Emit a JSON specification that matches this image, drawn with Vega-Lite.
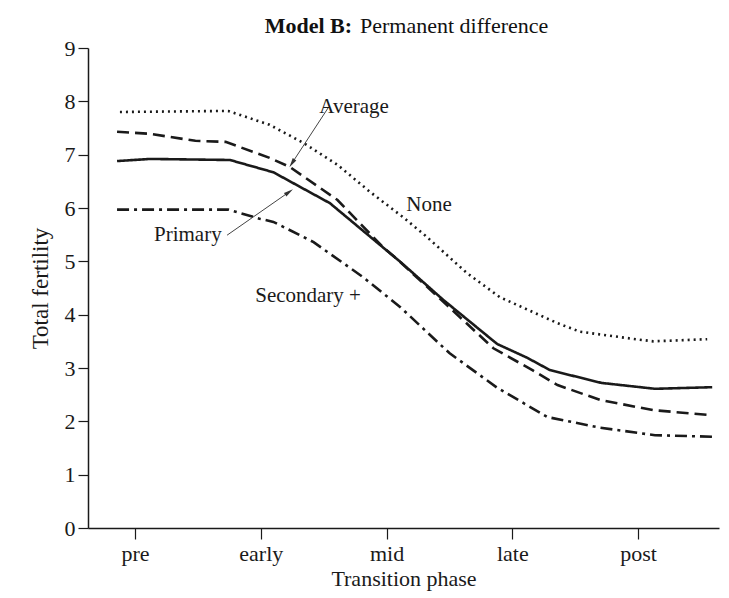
{
  "$schema": "https://vega.github.io/schema/vega-lite/v6.json",
  "width": 631,
  "height": 480,
  "autosize": "none",
  "padding": {"left": 88, "top": 48, "right": 10, "bottom": 70},
  "background": "#ffffff",
  "config": {
    "view": {"stroke": null},
    "font": "Liberation Serif",
    "axis": {
      "domainColor": "#1a1a1a",
      "tickColor": "#1a1a1a",
      "labelColor": "#1a1a1a",
      "titleColor": "#1a1a1a",
      "labelFont": "Liberation Serif",
      "titleFont": "Liberation Serif",
      "labelFontSize": 22,
      "titleFontSize": 22,
      "titleFontWeight": "normal",
      "grid": false,
      "domainWidth": 1.5,
      "tickWidth": 1.2
    }
  },
  "datasets": {
    "lines": [
      {"series": "Primary", "phase": 0.857, "tfr": 6.88},
      {"series": "Primary", "phase": 1.12, "tfr": 6.92},
      {"series": "Primary", "phase": 1.755, "tfr": 6.90},
      {"series": "Primary", "phase": 2.10, "tfr": 6.67},
      {"series": "Primary", "phase": 2.55, "tfr": 6.09},
      {"series": "Primary", "phase": 3.11, "tfr": 4.99},
      {"series": "Primary", "phase": 3.45, "tfr": 4.28},
      {"series": "Primary", "phase": 3.88, "tfr": 3.45},
      {"series": "Primary", "phase": 4.12, "tfr": 3.19},
      {"series": "Primary", "phase": 4.30, "tfr": 2.96},
      {"series": "Primary", "phase": 4.71, "tfr": 2.72},
      {"series": "Primary", "phase": 5.135, "tfr": 2.61},
      {"series": "Primary", "phase": 5.59, "tfr": 2.64},

      {"series": "Average", "phase": 0.857, "tfr": 7.43},
      {"series": "Average", "phase": 1.12, "tfr": 7.39},
      {"series": "Average", "phase": 1.48, "tfr": 7.26},
      {"series": "Average", "phase": 1.72, "tfr": 7.24},
      {"series": "Average", "phase": 2.07, "tfr": 6.94},
      {"series": "Average", "phase": 2.23, "tfr": 6.77},
      {"series": "Average", "phase": 2.61, "tfr": 6.15},
      {"series": "Average", "phase": 2.97, "tfr": 5.27},
      {"series": "Average", "phase": 3.08, "tfr": 5.05},
      {"series": "Average", "phase": 3.48, "tfr": 4.18},
      {"series": "Average", "phase": 3.85, "tfr": 3.37},
      {"series": "Average", "phase": 4.16, "tfr": 2.96},
      {"series": "Average", "phase": 4.36, "tfr": 2.68},
      {"series": "Average", "phase": 4.70, "tfr": 2.40},
      {"series": "Average", "phase": 5.12, "tfr": 2.21},
      {"series": "Average", "phase": 5.56, "tfr": 2.12},

      {"series": "None", "phase": 0.88, "tfr": 7.80},
      {"series": "None", "phase": 1.74, "tfr": 7.82},
      {"series": "None", "phase": 2.07, "tfr": 7.56},
      {"series": "None", "phase": 2.34, "tfr": 7.22},
      {"series": "None", "phase": 2.61, "tfr": 6.81},
      {"series": "None", "phase": 2.87, "tfr": 6.30},
      {"series": "None", "phase": 3.13, "tfr": 5.83},
      {"series": "None", "phase": 3.30, "tfr": 5.50},
      {"series": "None", "phase": 3.64, "tfr": 4.78},
      {"series": "None", "phase": 3.90, "tfr": 4.33},
      {"series": "None", "phase": 4.36, "tfr": 3.84},
      {"series": "None", "phase": 4.54, "tfr": 3.68},
      {"series": "None", "phase": 4.95, "tfr": 3.55},
      {"series": "None", "phase": 5.12, "tfr": 3.50},
      {"series": "None", "phase": 5.55, "tfr": 3.54},

      {"series": "Secondary +", "phase": 0.857, "tfr": 5.97},
      {"series": "Secondary +", "phase": 1.74, "tfr": 5.97},
      {"series": "Secondary +", "phase": 1.99, "tfr": 5.80},
      {"series": "Secondary +", "phase": 2.10, "tfr": 5.74},
      {"series": "Secondary +", "phase": 2.42, "tfr": 5.36},
      {"series": "Secondary +", "phase": 2.81, "tfr": 4.71},
      {"series": "Secondary +", "phase": 3.11, "tfr": 4.14},
      {"series": "Secondary +", "phase": 3.50, "tfr": 3.28},
      {"series": "Secondary +", "phase": 3.88, "tfr": 2.63},
      {"series": "Secondary +", "phase": 4.28, "tfr": 2.08},
      {"series": "Secondary +", "phase": 4.70, "tfr": 1.88},
      {"series": "Secondary +", "phase": 5.135, "tfr": 1.74},
      {"series": "Secondary +", "phase": 5.61, "tfr": 1.71}
    ],
    "labels": [
      {"label": "Average", "phase": 2.742, "tfr": 7.89},
      {"label": "None", "phase": 3.338, "tfr": 6.06},
      {"label": "Primary", "phase": 1.42, "tfr": 5.49},
      {"label": "Secondary +", "phase": 2.376, "tfr": 4.35}
    ],
    "arrows": [
      {"label": "Average", "phase": 2.535, "tfr": 7.875, "phase2": 2.248, "tfr2": 6.84},
      {"label": "Primary", "phase": 1.732, "tfr": 5.49, "phase2": 2.225, "tfr2": 6.30}
    ]
  },
  "layer": [
    {
      "data": {"name": "lines"},
      "mark": {"type": "line", "color": "#1a1a1a", "clip": false},
      "encoding": {
        "x": {
          "field": "phase",
          "type": "quantitative",
          "scale": {"domain": [0.626, 5.644], "nice": false, "zero": false},
          "axis": {
            "values": [1, 2, 3, 4, 5],
            "labelExpr": "['', 'pre', 'early', 'mid', 'late', 'post'][datum.value]",
            "tickSize": 11,
            "labelPadding": 4,
            "title": "Transition phase",
            "titlePadding": 4
          }
        },
        "y": {
          "field": "tfr",
          "type": "quantitative",
          "scale": {"domain": [0, 9], "nice": false},
          "axis": {
            "values": [0, 1, 2, 3, 4, 5, 6, 7, 8, 9],
            "tickSize": 10,
            "labelPadding": 3,
            "title": "Total fertility",
            "titleFontSize": 23,
            "titlePadding": 12
          }
        },
        "detail": {"field": "series"},
        "strokeDash": {
          "field": "series",
          "type": "nominal",
          "scale": {
            "domain": ["Primary", "Average", "None", "Secondary +"],
            "range": [[1, 0], [12, 6], [2, 4], [12, 5, 3, 5]]
          },
          "legend": null
        },
        "strokeWidth": {
          "field": "series",
          "type": "nominal",
          "scale": {
            "domain": ["Primary", "Average", "None", "Secondary +"],
            "range": [2.6, 2.6, 1.8, 2.2]
          },
          "legend": null
        }
      }
    },
    {
      "data": {"name": "arrows"},
      "mark": {"type": "rule", "color": "#444444", "strokeWidth": 1},
      "encoding": {
        "x": {"field": "phase", "type": "quantitative"},
        "y": {"field": "tfr", "type": "quantitative"},
        "x2": {"field": "phase2"},
        "y2": {"field": "tfr2"}
      }
    },
    {
      "data": {"name": "arrows"},
      "transform": [{"filter": "datum.label === 'Average'"}],
      "mark": {"type": "point", "shape": "M -0.45 1 L 0 -1 L 0.45 1 Z", "filled": true, "color": "#333333", "size": 90, "angle": 213, "opacity": 1},
      "encoding": {
        "x": {"field": "phase2", "type": "quantitative"},
        "y": {"field": "tfr2", "type": "quantitative"}
      }
    },
    {
      "data": {"name": "arrows"},
      "transform": [{"filter": "datum.label === 'Primary'"}],
      "mark": {"type": "point", "shape": "M -0.45 1 L 0 -1 L 0.45 1 Z", "filled": true, "color": "#333333", "size": 90, "angle": 55, "opacity": 1},
      "encoding": {
        "x": {"field": "phase2", "type": "quantitative"},
        "y": {"field": "tfr2", "type": "quantitative"}
      }
    },
    {
      "data": {"name": "labels"},
      "mark": {"type": "text", "font": "Liberation Serif", "fontSize": 21, "color": "#1a1a1a", "align": "center", "baseline": "middle"},
      "encoding": {
        "x": {"field": "phase", "type": "quantitative"},
        "y": {"field": "tfr", "type": "quantitative"},
        "text": {"field": "label"}
      }
    },
    {
      "data": {"values": [{"text": "Model B:", "phase": 2.726, "tfr": 9.41}]},
      "mark": {"type": "text", "font": "Liberation Serif", "fontSize": 22, "fontWeight": "bold", "color": "#111111", "align": "right", "baseline": "middle", "clip": false},
      "encoding": {
        "x": {"field": "phase", "type": "quantitative"},
        "y": {"field": "tfr", "type": "quantitative"},
        "text": {"field": "text"}
      }
    },
    {
      "data": {"values": [{"text": "Permanent difference", "phase": 2.789, "tfr": 9.41}]},
      "mark": {"type": "text", "font": "Liberation Serif", "fontSize": 22, "color": "#111111", "align": "left", "baseline": "middle", "clip": false},
      "encoding": {
        "x": {"field": "phase", "type": "quantitative"},
        "y": {"field": "tfr", "type": "quantitative"},
        "text": {"field": "text"}
      }
    }
  ]
}
